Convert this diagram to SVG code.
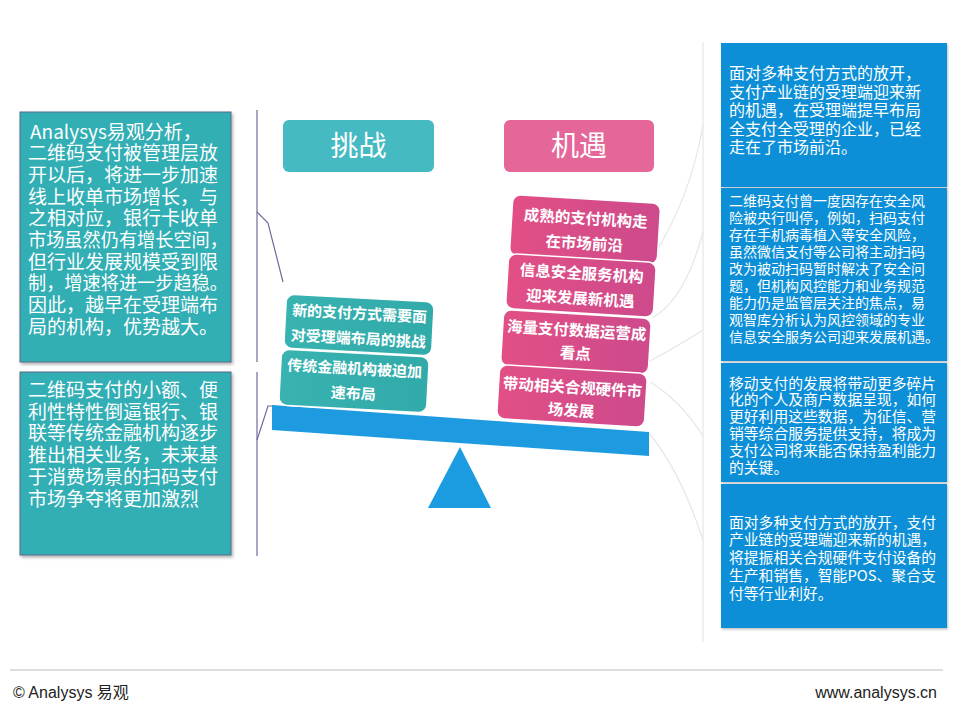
<svg xmlns="http://www.w3.org/2000/svg" width="960" height="720" viewBox="0 0 960 720">
<defs>
<filter id="sh" x="-10%" y="-10%" width="130%" height="130%">
<feDropShadow dx="1.5" dy="2" stdDeviation="1.5" flood-color="#000" flood-opacity="0.3"/>
</filter>
<filter id="sh2" x="-10%" y="-10%" width="130%" height="130%">
<feDropShadow dx="1" dy="1.5" stdDeviation="1.2" flood-color="#000" flood-opacity="0.25"/>
</filter>
<linearGradient id="pink" x1="0" y1="0" x2="1" y2="0">
<stop offset="0" stop-color="#e24f85"/>
<stop offset="1" stop-color="#cd4a8c"/>
</linearGradient>
<linearGradient id="teal" x1="0" y1="0" x2="1" y2="0">
<stop offset="0" stop-color="#38b3b0"/>
<stop offset="1" stop-color="#31aaaa"/>
</linearGradient>
</defs>
<style>
text{font-family:"Noto Sans CJK SC","Microsoft YaHei",sans-serif;fill:#fff}
.lt{font-size:19px}
.rt{font-size:14.8px}
.cd{font-size:15px;font-weight:bold;text-anchor:middle}
.cp{font-size:15.5px}
.btn{font-size:28px;text-anchor:middle}
.lbox{fill:#33aeb5;stroke:#566a88;stroke-width:1}
.rbox{fill:#0b8fd7}
.con{fill:none;stroke:#76689c;stroke-width:1.2}
.faint{fill:none;stroke:#e6e6e6;stroke-width:1.2}
.foot{fill:#222;font-family:"Liberation Sans",Arial,sans-serif;font-size:16px}
</style>
<rect width="960" height="720" fill="#fff"/>

<g id="connectors">
<line class="con" x1="257" y1="110" x2="257" y2="362"/>
<line class="con" x1="257" y1="372" x2="257" y2="556"/>
<polyline class="con" points="257,212 268,223 283,282"/>
<polyline class="con" points="257,440 268,406 274,406"/>
<line class="faint" x1="703" y1="42" x2="703" y2="642"/>
<path class="faint" d="M703,125 Q690,200 652,258"/>
<path class="faint" d="M652,318 Q685,300 703,232"/>
<path class="faint" d="M648,362 Q680,345 703,330"/>
<path class="faint" d="M648,432 Q680,470 703,540"/>
<path class="faint" d="M650,382 Q680,400 703,436"/>
</g>

<g id="left-box-1">
<rect class="lbox" x="20" y="112" width="211" height="250" filter="url(#sh)"/>
<text class="lt" x="28" y="138.5">
<tspan x="30">Analysys易观分析，</tspan>
<tspan x="28" dy="21.7">二维码支付被管理层放</tspan>
<tspan x="28" dy="21.7">开以后，将进一步加速</tspan>
<tspan x="28" dy="21.7">线上收单市场增长，与</tspan>
<tspan x="28" dy="21.7">之相对应，银行卡收单</tspan>
<tspan x="28" dy="21.7" textLength="200" lengthAdjust="spacingAndGlyphs">市场虽然仍有增长空间，</tspan>
<tspan x="28" dy="21.7">但行业发展规模受到限</tspan>
<tspan x="28" dy="21.7" textLength="200" lengthAdjust="spacingAndGlyphs">制，增速将进一步趋稳。</tspan>
<tspan x="28" dy="21.7">因此，越早在受理端布</tspan>
<tspan x="28" dy="21.7">局的机构，优势越大。</tspan>
</text>
</g>

<g id="left-box-2">
<rect class="lbox" x="20" y="372" width="211" height="183" filter="url(#sh)"/>
<text class="lt" x="28" y="397">
<tspan x="28">二维码支付的小额、便</tspan>
<tspan x="28" dy="21.7">利性特性倒逼银行、银</tspan>
<tspan x="28" dy="21.7">联等传统金融机构逐步</tspan>
<tspan x="28" dy="21.7">推出相关业务，未来基</tspan>
<tspan x="28" dy="21.7">于消费场景的扫码支付</tspan>
<tspan x="28" dy="21.7">市场争夺将更加激烈</tspan>
</text>
</g>

<g id="btn-challenge">
<rect x="283" y="120" width="151" height="52" rx="6" fill="#46bac2"/>
<text class="btn" x="358.5" y="156">挑战</text>
</g>
<g id="btn-opportunity">
<rect x="504" y="120" width="150" height="52" rx="6" fill="#e5679a"/>
<text class="btn" x="579" y="156">机遇</text>
</g>

<g id="balance">
<polygon points="272,405 649,432 649,456 272,430" fill="#1e9be0"/>
<polygon points="460,447 428,508 491,508" fill="#1b9be0"/>
</g>

<g id="card-t1" transform="rotate(3 359 325)">
<rect x="285" y="298" width="148" height="54" rx="8" fill="url(#teal)" stroke="#fff" stroke-width="1.5"/>
<text class="cd" x="359" y="319">新的支付方式需要面</text>
<text class="cd" x="359" y="344">对受理端布局的挑战</text>
</g>
<g id="card-t2" transform="rotate(3 354 381)">
<rect x="280" y="353" width="148" height="56" rx="8" fill="url(#teal)" stroke="#fff" stroke-width="1.5"/>
<text class="cd" x="354" y="374">传统金融机构被迫加</text>
<text class="cd" x="354" y="399">速布局</text>
</g>

<g id="card-p1" transform="rotate(3.5 585 230)">
<rect x="511" y="199" width="148" height="61" rx="8" fill="url(#pink)" stroke="#fff" stroke-width="1.5"/>
<text class="cd cp" x="585" y="224">成熟的支付机构走</text>
<text class="cd cp" x="585" y="249">在市场前沿</text>
</g>
<g id="card-p2" transform="rotate(3.5 581 285)">
<rect x="507" y="258" width="148" height="55" rx="8" fill="url(#pink)" stroke="#fff" stroke-width="1.5"/>
<text class="cd cp" x="581" y="279">信息安全服务机构</text>
<text class="cd cp" x="581" y="304">迎来发展新机遇</text>
</g>
<g id="card-p3" transform="rotate(3.5 576 341)">
<rect x="502" y="314" width="148" height="56" rx="8" fill="url(#pink)" stroke="#fff" stroke-width="1.5"/>
<text class="cd cp" x="576" y="336">海量支付数据运营成</text>
<text class="cd cp" x="576" y="359">看点</text>
</g>
<g id="card-p4" transform="rotate(3.5 572 396)">
<rect x="498" y="369" width="148" height="54" rx="8" fill="url(#pink)" stroke="#fff" stroke-width="1.5"/>
<text class="cd cp" x="572" y="393">带动相关合规硬件市</text>
<text class="cd cp" x="572" y="416">场发展</text>
</g>

<g id="right-box-1">
<rect class="rbox" x="721" y="43" width="226" height="144" filter="url(#sh2)"/>
<text x="729" y="79" font-size="16">
<tspan x="729">面对多种支付方式的放开，</tspan>
<tspan x="729" dy="18.6">支付产业链的受理端迎来新</tspan>
<tspan x="729" dy="18.6">的机遇，在受理端提早布局</tspan>
<tspan x="729" dy="18.6">全支付全受理的企业，已经</tspan>
<tspan x="729" dy="18.6">走在了市场前沿。</tspan>
</text>
</g>
<g id="right-box-2">
<rect class="rbox" x="721" y="188" width="226" height="173" filter="url(#sh2)"/>
<text x="729" y="206" font-size="14">
<tspan x="729">二维码支付曾一度因存在安全风</tspan>
<tspan x="729" dy="17">险被央行叫停，例如，扫码支付</tspan>
<tspan x="729" dy="17">存在手机病毒植入等安全风险，</tspan>
<tspan x="729" dy="17">虽然微信支付等公司将主动扫码</tspan>
<tspan x="729" dy="17">改为被动扫码暂时解决了安全问</tspan>
<tspan x="729" dy="17">题，但机构风控能力和业务规范</tspan>
<tspan x="729" dy="17">能力仍是监管层关注的焦点，易</tspan>
<tspan x="729" dy="17">观智库分析认为风控领域的专业</tspan>
<tspan x="729" dy="17">信息安全服务公司迎来发展机遇。</tspan>
</text>
</g>
<g id="right-box-3">
<rect class="rbox" x="721" y="363" width="226" height="119" filter="url(#sh2)"/>
<text class="rt" x="729" y="388.5">
<tspan x="729">移动支付的发展将带动更多碎片</tspan>
<tspan x="729" dy="16.8">化的个人及商户数据呈现，如何</tspan>
<tspan x="729" dy="16.8">更好利用这些数据，为征信、营</tspan>
<tspan x="729" dy="16.8">销等综合服务提供支持，将成为</tspan>
<tspan x="729" dy="16.8">支付公司将来能否保持盈利能力</tspan>
<tspan x="729" dy="16.8">的关键。</tspan>
</text>
</g>
<g id="right-box-4">
<rect class="rbox" x="721" y="484" width="226" height="144" filter="url(#sh2)"/>
<text class="rt" x="729" y="527.5">
<tspan x="729">面对多种支付方式的放开，支付</tspan>
<tspan x="729" dy="17.8">产业链的受理端迎来新的机遇，</tspan>
<tspan x="729" dy="17.8">将提振相关合规硬件支付设备的</tspan>
<tspan x="729" dy="17.8">生产和销售，智能POS、聚合支</tspan>
<tspan x="729" dy="17.8">付等行业利好。</tspan>
</text>
</g>

<g id="footer">
<line x1="10" y1="670" x2="943" y2="670" stroke="#bdbdbd" stroke-width="1"/>
<text class="foot" x="13" y="698">© Analysys <tspan font-family="Noto Sans CJK SC, sans-serif">易观</tspan></text>
<text class="foot" x="937" y="698" text-anchor="end">www.analysys.cn</text>
</g>
</svg>
